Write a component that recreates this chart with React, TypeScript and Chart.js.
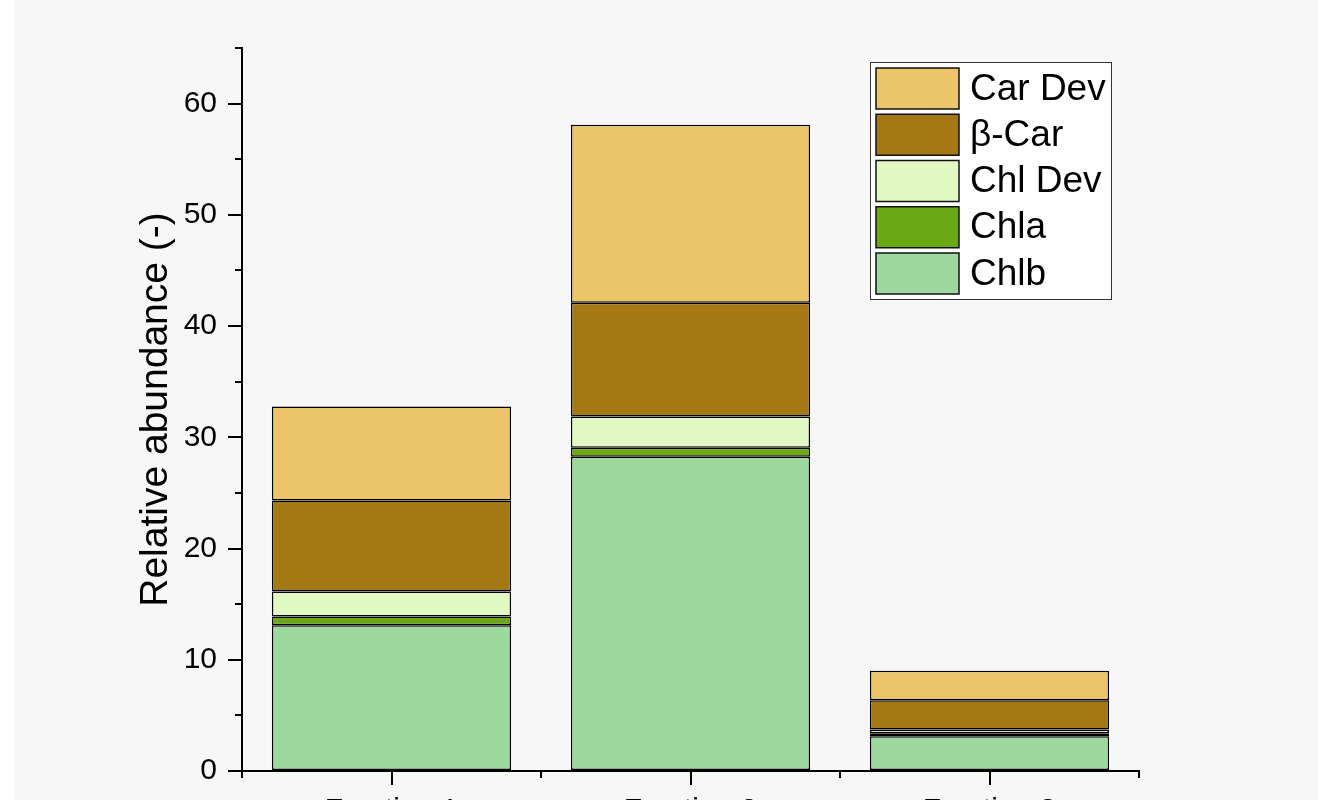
import React, { useEffect, useRef } from "react";
import { Chart, registerables } from "chart.js";

Chart.register(...registerables);

// Pigment groups per fraction (stacked bottom to top)
const fractions = ["Fraction 1", "Fraction 2", "Fraction 3"];
const chlb = [13.1, 28.25, 3.12];
const chla = [0.78, 0.8, 0.27];
const chlDev = [2.25, 2.82, 0.33];
const betaCar = [8.18, 10.23, 2.64];
const carDev = [8.46, 16.0, 2.66];

const seriesLabels = ["Chlb", "Chla", "Chl Dev", "β-Car", "Car Dev"];
const seriesColors = ["#9DD89E", "#6BA815", "#E2F8C3", "#A47814", "#ECC56B"];
const seriesValues = [chlb, chla, chlDev, betaCar, carDev];

const yMin = 0;
const yMax = 65;
const yStep = 10;

const FONT = "'Liberation Sans', Arial, Helvetica, sans-serif";

// Short minor ticks on both axes (between the labelled ones)
const minorTicksPlugin = {
  id: "minorTicks",
  afterDraw(chart: any) {
    const { ctx, chartArea } = chart;
    const x = chart.scales.x;
    const y = chart.scales.y;
    ctx.save();
    ctx.strokeStyle = "#000";
    ctx.lineWidth = 2;
    ctx.lineCap = "butt";
    ctx.beginPath();
    for (let v = yMin + yStep / 2; v <= yMax + 0.001; v += yStep) {
      const py = Math.round(y.getPixelForValue(v));
      ctx.moveTo(chartArea.left - 7, py);
      ctx.lineTo(chartArea.left, py);
    }
    for (let i = 0; i <= fractions.length; i++) {
      const px = Math.round(x.getPixelForValue(i - 0.5));
      ctx.moveTo(px, chartArea.bottom);
      ctx.lineTo(px, chartArea.bottom + 7);
    }
    ctx.stroke();
    ctx.restore();
  },
};

// Boxed legend in the upper right, top series first
const boxLegendPlugin = {
  id: "boxLegend",
  afterDraw(chart: any) {
    const { ctx } = chart;
    const boxX = 870.5;
    const boxY = 62.5;
    const boxW = 241;
    const boxH = 237;
    const swX = 876;
    const swW = 83;
    const swH = 41;
    const rowGap = 46.25;
    const firstY = 68;
    const textX = 970;

    ctx.save();
    ctx.fillStyle = "#ffffff";
    ctx.fillRect(boxX, boxY, boxW, boxH);
    ctx.strokeStyle = "#333333";
    ctx.lineWidth = 1;
    ctx.strokeRect(boxX, boxY, boxW, boxH);

    const ds = chart.data.datasets.slice().reverse();
    ctx.font = `37px ${FONT}`;
    ctx.textBaseline = "middle";
    ctx.textAlign = "left";
    ds.forEach((d: any, i: number) => {
      const ry = firstY + i * rowGap;
      ctx.fillStyle = d.backgroundColor;
      ctx.fillRect(swX, ry, swW, swH);
      ctx.strokeStyle = "#111111";
      ctx.lineWidth = 1.5;
      ctx.strokeRect(swX, ry, swW, swH);
      ctx.fillStyle = "#000000";
      ctx.fillText(d.label, textX, ry + swH / 2 + 1);
    });
    ctx.restore();
  },
};

function StackedPigmentChart() {
  const canvasRef = useRef<HTMLCanvasElement | null>(null);

  useEffect(() => {
    const canvas = canvasRef.current;
    if (!canvas) return;

    const chart = new Chart(canvas, {
      type: "bar",
      data: {
        labels: fractions,
        datasets: seriesLabels.map((label, i) => ({
          label,
          data: seriesValues[i],
          backgroundColor: seriesColors[i],
          borderColor: "#000000",
          borderWidth: 1.5,
          borderSkipped: false,
          barPercentage: 0.8,
          categoryPercentage: 1,
        })),
      },
      options: {
        responsive: false,
        animation: false,
        devicePixelRatio: 1,
        layout: { padding: { left: 130, right: 179, top: 48, bottom: 0 } },
        plugins: {
          legend: { display: false },
          tooltip: { enabled: false },
        },
        scales: {
          x: {
            stacked: true,
            offset: true,
            grid: {
              offset: false,
              drawOnChartArea: false,
              drawTicks: true,
              tickLength: 14,
              color: "#000",
              tickColor: "#000",
              lineWidth: 2,
              tickWidth: 2,
            },
            border: { display: true, color: "#000", width: 2 },
            ticks: {
              color: "#000",
              font: { family: FONT, size: 30 },
              padding: 8,
              maxRotation: 0,
            },
            afterFit(scale: any) {
              scale.height = 89;
            },
          },
          y: {
            stacked: true,
            min: yMin,
            max: yMax,
            grid: {
              drawOnChartArea: false,
              drawTicks: true,
              tickLength: 14,
              color: "#000",
              tickColor: "#000",
              lineWidth: 2,
              tickWidth: 2,
            },
            border: { display: true, color: "#000", width: 2 },
            ticks: {
              stepSize: yStep,
              includeBounds: false,
              color: "#000",
              font: { family: FONT, size: 30 },
              padding: 11,
            },
            title: {
              display: true,
              text: "Relative abundance (-)",
              color: "#000",
              font: { family: FONT, size: 39 },
              padding: { top: 3, bottom: 4 },
            },
            afterFit(scale: any) {
              scale.width = 112;
            },
          },
        },
      },
      plugins: [minorTicksPlugin, boxLegendPlugin],
    });

    return () => chart.destroy();
  }, []);

  return (
    <canvas
      ref={canvasRef}
      width={1318}
      height={860}
      style={{ position: "absolute", left: 0, top: 0, width: 1318, height: 860 }}
    />
  );
}

export default function App() {
  return (
    <div
      style={{
        position: "fixed",
        left: 0,
        top: 0,
        width: 1318,
        height: 800,
        overflow: "hidden",
        background: "#ffffff",
      }}
    >
      <div
        style={{
          position: "absolute",
          left: 14,
          top: 0,
          width: 1304,
          height: 800,
          background: "#f7f7f7",
        }}
      />
      <StackedPigmentChart />
    </div>
  );
}
